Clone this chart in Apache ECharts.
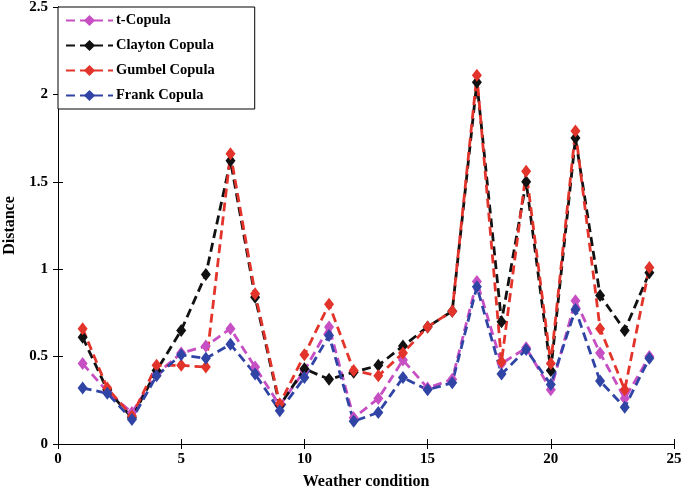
<!DOCTYPE html>
<html>
<head>
<meta charset="utf-8">
<script src="https://cdn.jsdelivr.net/npm/echarts@6/dist/echarts.min.js"></script>
<style>
html,body{margin:0;padding:0;background:#fff;}
#chart{width:683px;height:492px;}
</style>
</head>
<body>
<div id="chart"></div>
<script>
// weather condition index 1..24
var conditions = [1,2,3,4,5,6,7,8,9,10,11,12,13,14,15,16,17,18,19,20,21,22,23,24];
var tCopula       = [0.46,0.30,0.18,0.40,0.52,0.56,0.66,0.44,0.22,0.42,0.67,0.15,0.26,0.48,0.32,0.37,0.93,0.46,0.55,0.31,0.82,0.52,0.26,0.50];
var claytonCopula = [0.61,0.31,0.15,0.42,0.65,0.97,1.62,0.84,0.22,0.43,0.37,0.41,0.45,0.56,0.67,0.76,2.07,0.70,1.50,0.42,1.75,0.85,0.65,0.98];
var gumbelCopula  = [0.66,0.32,0.16,0.45,0.45,0.44,1.66,0.86,0.23,0.51,0.80,0.42,0.39,0.52,0.67,0.76,2.11,0.47,1.56,0.46,1.79,0.66,0.31,1.01];
var frankCopula   = [0.32,0.29,0.14,0.39,0.51,0.49,0.57,0.40,0.19,0.38,0.62,0.13,0.18,0.38,0.31,0.35,0.90,0.40,0.54,0.34,0.77,0.36,0.21,0.49];

var chart = echarts.init(document.getElementById('chart'));

function pairs(vals){
	var out = [];
	for(var i = 0; i < conditions.length; i++){
		out.push([conditions[i], vals[i]]);
	}
	return out;
}

function makeSeries(name, color, vals){
	return {
		name: name,
		type: 'line',
		data: pairs(vals),
		symbol: 'diamond',
		symbolSize: [10, 13],
		itemStyle: {color: color},
		lineStyle: {color: color, width: 2.8, type: [9, 5]},
		z: 2
	};
}

var serif = 'Liberation Serif';
var labelStyle = {color: '#000', fontFamily: serif, fontWeight: 'bold', fontSize: 15};

chart.setOption({
	animation: false,
	grid: {left: 58, right: 9, top: 7, bottom: 48, containLabel: false, outerBoundsMode: 'none'},
	legend: {
		orient: 'vertical',
		left: 58,
		top: 7,
		padding: [6, 40, 6, 7],
		itemWidth: 47,
		itemHeight: 14,
		itemGap: 10,
		backgroundColor: '#fff',
		borderColor: '#000',
		borderWidth: 1,
		textStyle: {color: '#000', fontFamily: serif, fontWeight: 'bold', fontSize: 14.5, padding: [0,0,0,-2]},
		data: ['t-Copula', 'Clayton Copula', 'Gumbel Copula', 'Frank Copula']
	},
	xAxis: [
		{
			type: 'value', min: 0, max: 25, interval: 5,
			name: 'Weather condition', nameLocation: 'middle', nameGap: 30,
			nameTextStyle: {color: '#000', fontFamily: serif, fontWeight: 'bold', fontSize: 16},
			axisLine: {lineStyle: {color: '#000', width: 1}},
			axisTick: {inside: true, length: 5, lineStyle: {color: '#000'}},
			axisLabel: Object.assign({margin: 8}, labelStyle),
			splitLine: {show: false}
		},
		{
			type: 'value', min: 0, max: 25, interval: 5, position: 'top',
			axisLine: {lineStyle: {color: '#000', width: 1}},
			axisTick: {inside: true, length: 5, lineStyle: {color: '#000'}},
			axisLabel: {show: false},
			splitLine: {show: false}
		}
	],
	yAxis: [
		{
			type: 'value', min: 0, max: 2.5, interval: 0.5,
			name: 'Distance', nameLocation: 'middle', nameGap: 40,
			nameTextStyle: {color: '#000', fontFamily: serif, fontWeight: 'bold', fontSize: 16},
			axisLine: {show: true, lineStyle: {color: '#000', width: 1}},
			axisTick: {show: true, inside: true, length: 5, lineStyle: {color: '#000'}},
			axisLabel: Object.assign({margin: 10}, labelStyle),
			splitLine: {show: false}
		},
		{
			type: 'value', min: 0, max: 2.5, interval: 0.5, position: 'right',
			axisLine: {show: true, lineStyle: {color: '#000', width: 1}},
			axisTick: {show: true, inside: true, length: 5, lineStyle: {color: '#000'}},
			axisLabel: {show: false},
			splitLine: {show: false}
		}
	],
	series: [
		makeSeries('t-Copula', '#c74fc4', tCopula),
		makeSeries('Clayton Copula', '#111111', claytonCopula),
		makeSeries('Gumbel Copula', '#e3342b', gumbelCopula),
		makeSeries('Frank Copula', '#3044a6', frankCopula)
	]
});
</script>
</body>
</html>
